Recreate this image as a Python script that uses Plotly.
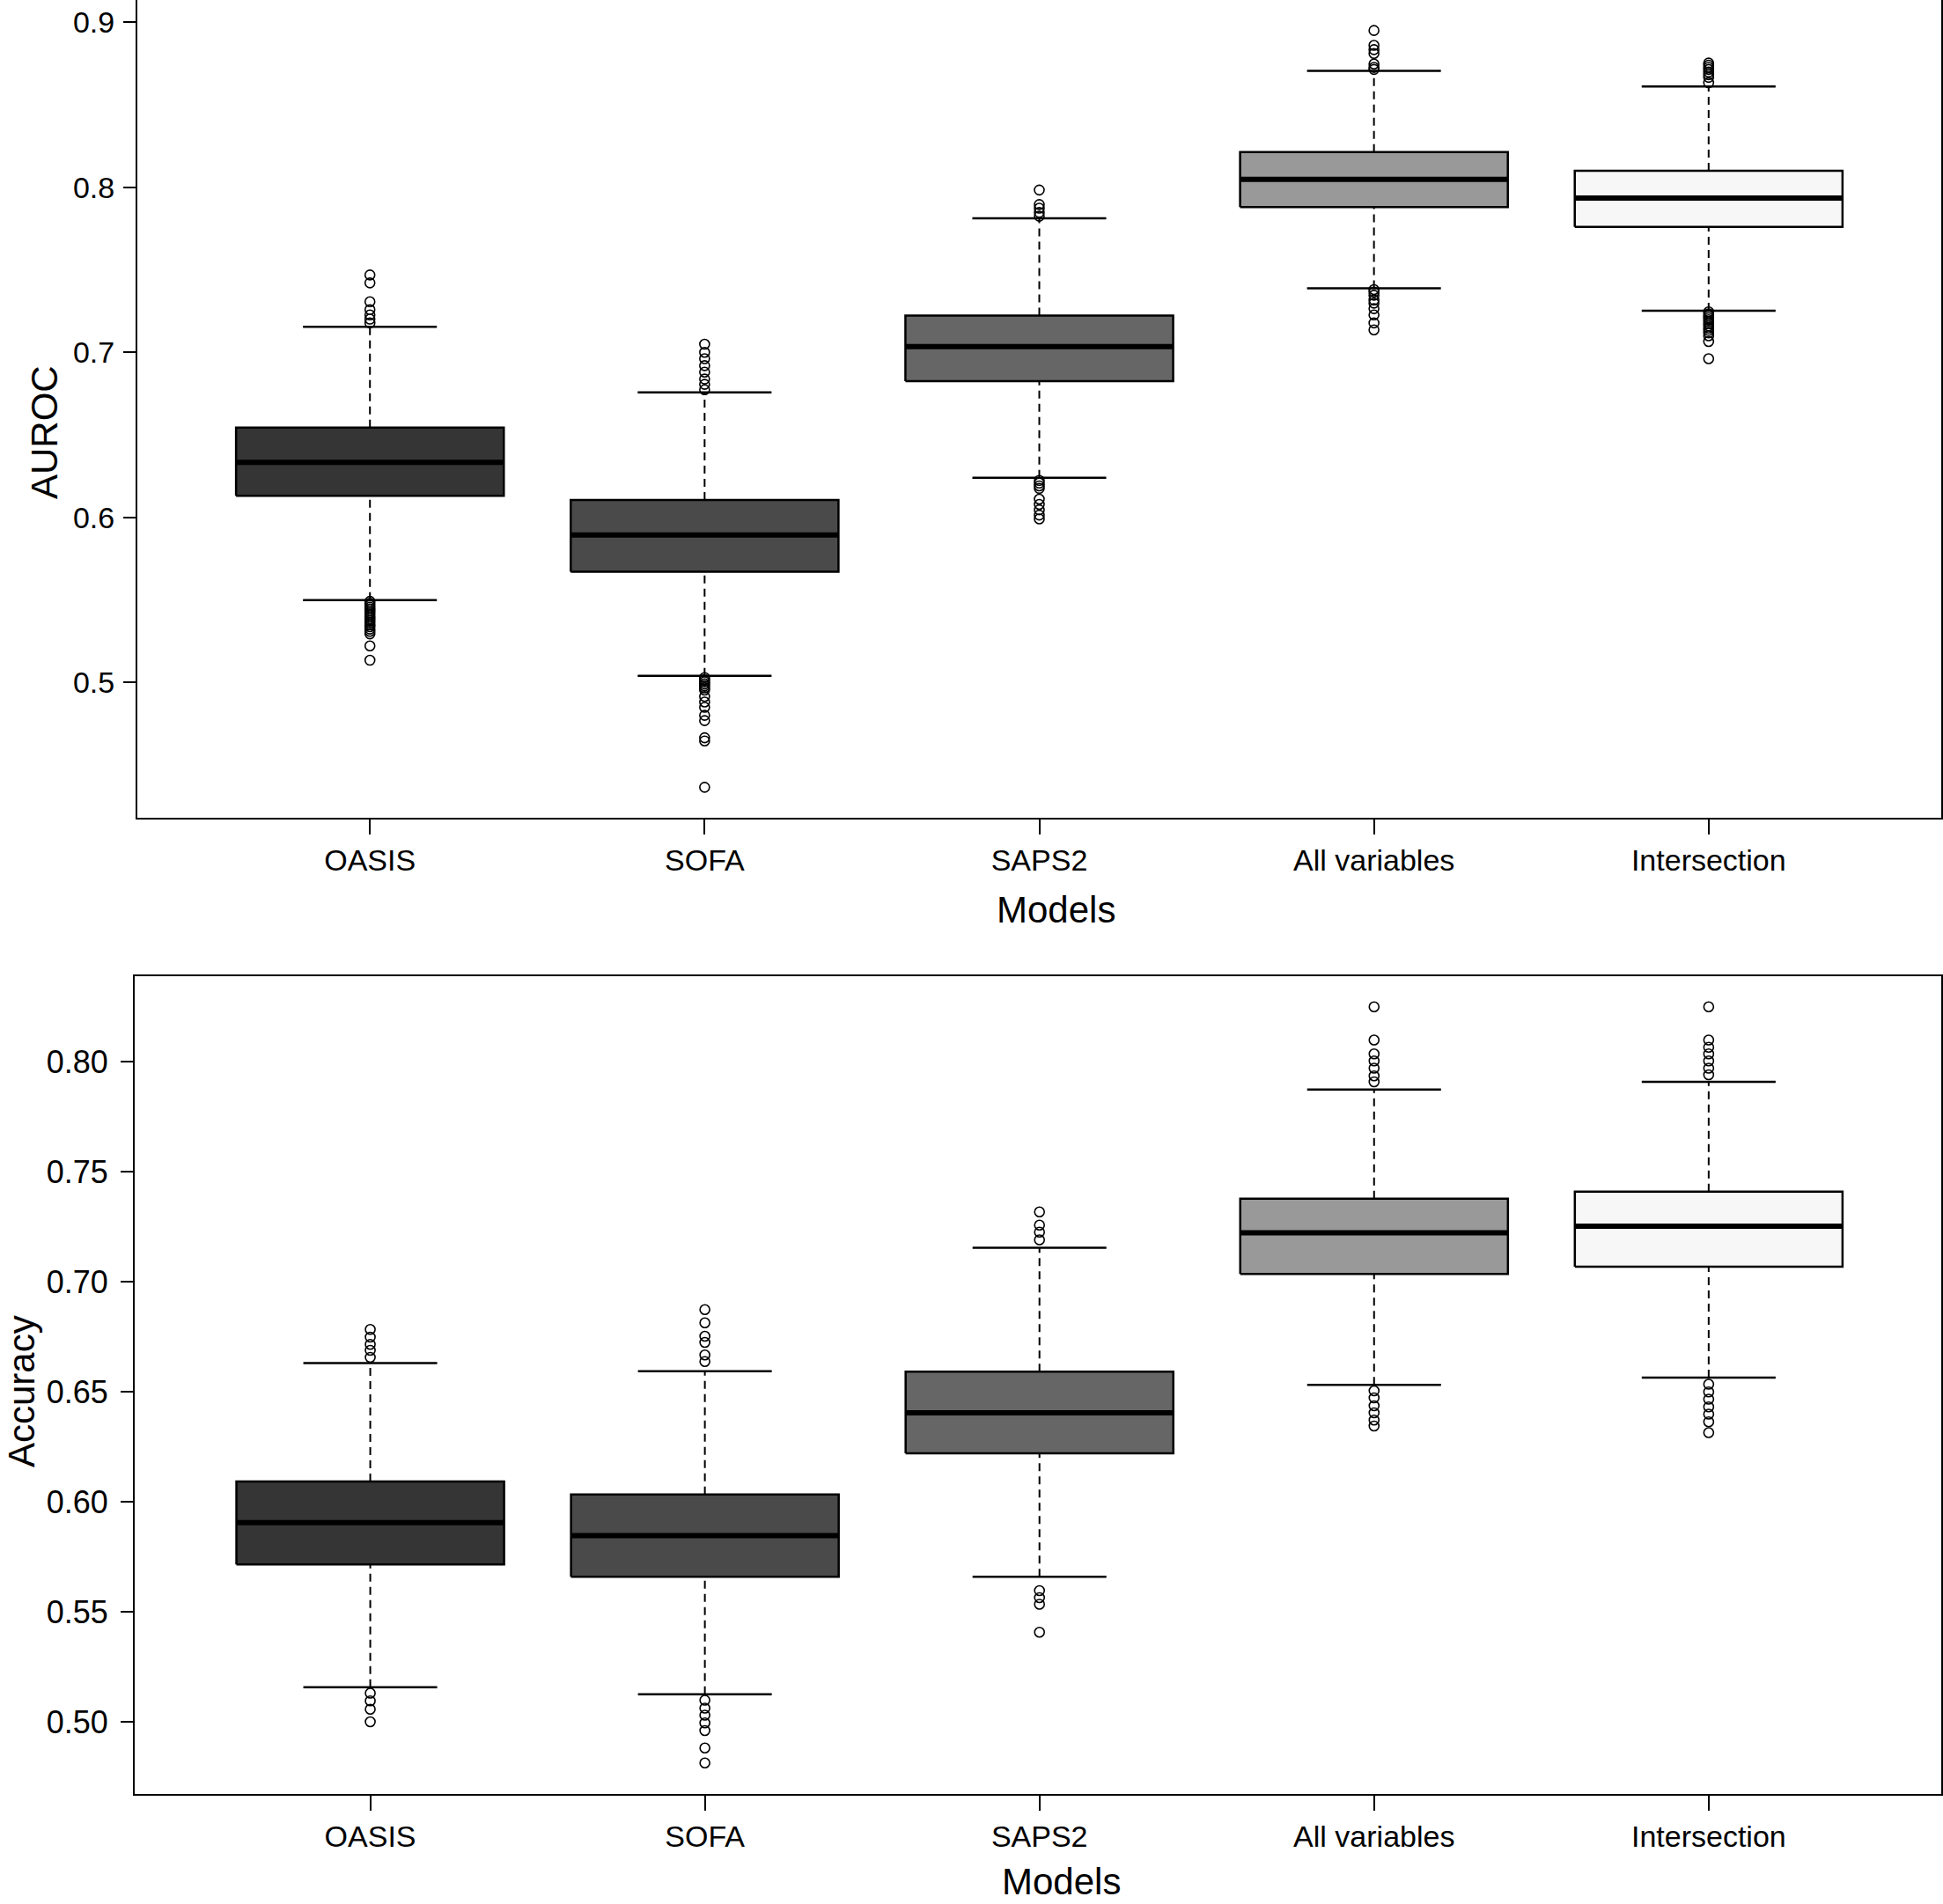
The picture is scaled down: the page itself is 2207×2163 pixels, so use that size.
import plotly.graph_objects as go

W, H = 2207, 2163

models = ["OASIS", "SOFA", "SAPS2", "All variables", "Intersection"]
box_colors = ["#353535", "#4a4a4a", "#666666", "#999999", "#f7f7f7"]

# AUROC summary statistics
auroc_lower = [0.5498, 0.5039, 0.6240, 0.7388, 0.7252]
auroc_q1 = [0.6130, 0.5670, 0.6825, 0.7880, 0.7760]
auroc_median = [0.6333, 0.5893, 0.7035, 0.8049, 0.7935]
auroc_q3 = [0.6544, 0.6104, 0.7223, 0.8214, 0.8100]
auroc_upper = [0.7155, 0.6757, 0.7812, 0.8706, 0.8612]
auroc_outliers = [
    [0.7469, 0.7421, 0.7307, 0.7259, 0.7227, 0.7201, 0.7178,
     0.5490, 0.5478, 0.5466, 0.5455, 0.5444, 0.5432, 0.5420, 0.5408, 0.5396, 0.5384,
     0.5372, 0.5360, 0.5348, 0.5336, 0.5322, 0.5308, 0.5293, 0.5220, 0.5133],
    [0.7049, 0.7000, 0.6961, 0.6919, 0.6880, 0.6838, 0.6806, 0.6773,
     0.5028, 0.5015, 0.5003, 0.4990, 0.4978, 0.4965, 0.4952, 0.4913, 0.4880, 0.4848,
     0.4799, 0.4767, 0.4663, 0.4644, 0.4363],
    [0.7984, 0.7896, 0.7874, 0.7848, 0.7825,
     0.6223, 0.6207, 0.6190, 0.6175, 0.6110, 0.6078, 0.6045, 0.6013, 0.5990],
    [0.8951, 0.8861, 0.8835, 0.8812, 0.8748, 0.8728, 0.8715,
     0.7380, 0.7365, 0.7346, 0.7317, 0.7298, 0.7265, 0.7227, 0.7178, 0.7136],
    [0.8754, 0.8741, 0.8728, 0.8715, 0.8699, 0.8683, 0.8667, 0.8634,
     0.7245, 0.7233, 0.7221, 0.7209, 0.7197, 0.7185, 0.7173, 0.7160, 0.7147, 0.7133,
     0.7118, 0.7100, 0.7065, 0.6961],
]

# Accuracy summary statistics
acc_lower = [0.5157, 0.5125, 0.5659, 0.6531, 0.6564]
acc_q1 = [0.5715, 0.5659, 0.6220, 0.7035, 0.7068]
acc_median = [0.5905, 0.5846, 0.6404, 0.7222, 0.7252]
acc_q3 = [0.6092, 0.6033, 0.6591, 0.7377, 0.7409]
acc_upper = [0.6630, 0.6593, 0.7154, 0.7873, 0.7908]
acc_outliers = [
    [0.6783, 0.6748, 0.6715, 0.6688, 0.6656, 0.5130, 0.5095, 0.5057, 0.5000],
    [0.6873, 0.6813, 0.6752, 0.6724, 0.6667, 0.6637,
     0.5098, 0.5062, 0.5030, 0.4995, 0.4960, 0.4881, 0.4813],
    [0.7317, 0.7257, 0.7225, 0.7190, 0.5596, 0.5564, 0.5534, 0.5407],
    [0.8249, 0.8098, 0.8035, 0.8003, 0.7970, 0.7935, 0.7908,
     0.6504, 0.6472, 0.6436, 0.6404, 0.6371, 0.6344],
    [0.8249, 0.8098, 0.8065, 0.8035, 0.8003, 0.7970, 0.7940,
     0.6534, 0.6499, 0.6466, 0.6431, 0.6398, 0.6363, 0.6314],
]

auroc_ticks = [0.5, 0.6, 0.7, 0.8, 0.9]
auroc_ticktext = ["0.5", "0.6", "0.7", "0.8", "0.9"]
acc_ticks = [0.50, 0.55, 0.60, 0.65, 0.70, 0.75, 0.80]
acc_ticktext = ["0.50", "0.55", "0.60", "0.65", "0.70", "0.75", "0.80"]

BOX_HALF = 0.4
STAPLE_HALF = 0.2
FONT = "Liberation Sans, Arial, sans-serif"

fig = go.Figure()


def add_panel(xa, ya, lower, q1, med, q3, upper, outliers):
    for i in range(len(models)):
        xc = i + 1
        # dashed whiskers
        for a, b in ((q3[i], upper[i]), (lower[i], q1[i])):
            fig.add_trace(go.Scatter(
                x=[xc, xc], y=[a, b], mode="lines", xaxis=xa, yaxis=ya,
                line=dict(color="black", width=2, dash="9px,6px"),
                hoverinfo="skip", showlegend=False))
        # staples
        for v in (upper[i], lower[i]):
            fig.add_trace(go.Scatter(
                x=[xc - STAPLE_HALF, xc + STAPLE_HALF], y=[v, v], mode="lines",
                xaxis=xa, yaxis=ya, line=dict(color="black", width=2.5),
                hoverinfo="skip", showlegend=False))
        # box
        fig.add_trace(go.Scatter(
            x=[xc - BOX_HALF, xc + BOX_HALF, xc + BOX_HALF, xc - BOX_HALF, xc - BOX_HALF],
            y=[q1[i], q1[i], q3[i], q3[i], q1[i]],
            mode="lines", fill="toself", fillcolor=box_colors[i],
            xaxis=xa, yaxis=ya, line=dict(color="black", width=2.5),
            hoverinfo="skip", showlegend=False))
        # median
        fig.add_trace(go.Scatter(
            x=[xc - BOX_HALF, xc + BOX_HALF], y=[med[i], med[i]], mode="lines",
            xaxis=xa, yaxis=ya, line=dict(color="black", width=6),
            hoverinfo="skip", showlegend=False))
        # outliers
        fig.add_trace(go.Scatter(
            x=[xc] * len(outliers[i]), y=outliers[i], mode="markers",
            xaxis=xa, yaxis=ya,
            marker=dict(symbol="circle-open", size=11, color="black",
                        line=dict(width=1.6, color="black")),
            hoverinfo="skip", showlegend=False))


add_panel("x", "y", auroc_lower, auroc_q1, auroc_median, auroc_q3, auroc_upper, auroc_outliers)
add_panel("x2", "y2", acc_lower, acc_q1, acc_median, acc_q3, acc_upper, acc_outliers)

axis_common = dict(showline=True, mirror=True, linecolor="black", linewidth=2,
                   ticks="outside", tickcolor="black", tickwidth=2,
                   showgrid=False, zeroline=False, automargin=False)


def tf(size):
    return dict(family=FONT, size=size, color="black")


fig.update_layout(
    width=W, height=H,
    margin=dict(l=0, r=0, t=0, b=0),
    paper_bgcolor="white", plot_bgcolor="white",
    showlegend=False,
    xaxis=dict(domain=[156 / W, 2205 / W], range=[0.305, 5.695],
               tickvals=[1, 2, 3, 4, 5], ticktext=models, ticklen=17,
               tickfont=tf(34), anchor="y", **axis_common),
    yaxis=dict(domain=[1 - 929 / H, 1], range=[0.4178, 0.9136],
               tickvals=auroc_ticks, ticktext=auroc_ticktext, ticklen=14,
               ticklabelstandoff=3, tickfont=tf(34), anchor="x", **axis_common),
    xaxis2=dict(domain=[153 / W, 2205 / W], range=[0.296, 5.695],
                tickvals=[1, 2, 3, 4, 5], ticktext=models, ticklen=17,
                tickfont=tf(34), anchor="y2", **axis_common),
    yaxis2=dict(domain=[1 - 2038 / H, 1 - 1109 / H], range=[0.4672, 0.8388],
                tickvals=acc_ticks, ticktext=acc_ticktext, ticklen=14,
                ticklabelstandoff=7, tickfont=tf(36), anchor="x2", **axis_common),
)

title_font = dict(family=FONT, size=42, color="black")
annots = [
    dict(text="AUROC", x=50 / W, y=1 - 491 / H, textangle=-90),
    dict(text="Models", x=1199 / W, y=1 - 1034 / H, textangle=0),
    dict(text="Accuracy", x=24 / W, y=1 - 1581 / H, textangle=-90),
    dict(text="Models", x=1205 / W, y=1 - 2137 / H, textangle=0),
]
for a in annots:
    fig.add_annotation(xref="paper", yref="paper", showarrow=False,
                       xanchor="center", yanchor="middle", font=title_font, **a)

fig.write_html("out.html",
               config={"displayModeBar": False},
               post_script="document.body.style.margin='0';"
                           "document.body.style.padding='0';"
                           "document.body.style.overflow='hidden';")
